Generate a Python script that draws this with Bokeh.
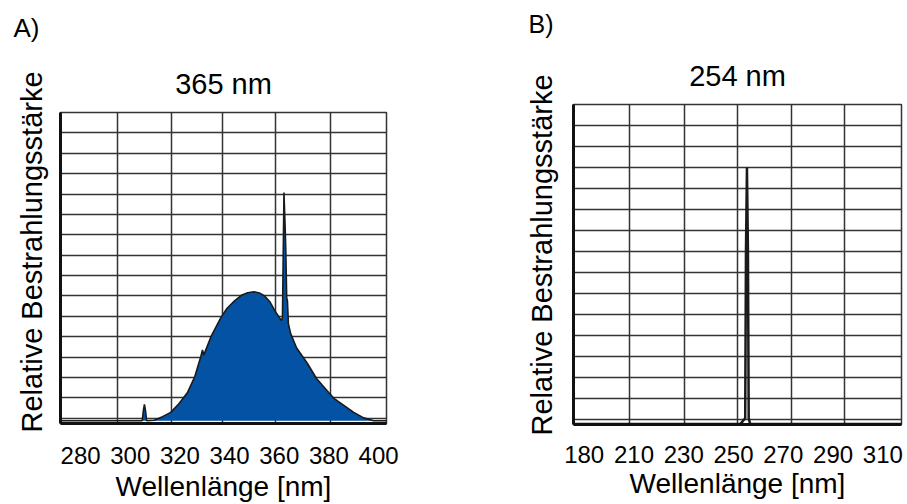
from bokeh.plotting import figure
from bokeh.layouts import row
from bokeh.models import Range1d, FixedTicker, Title
from bokeh.embed import file_html
from bokeh.resources import INLINE

FONT = "Liberation Sans"

# ---------------- Panel A: 365 nm lamp spectrum ----------------
a_wavelength = [271.9, 300.0, 304.8, 305.3, 305.7, 306.1, 306.6, 309.6, 313.0, 316.3,
                319.5, 323.0, 326.0, 328.4, 329.1, 329.6, 332.5, 336.6, 339.0, 342.0,
                345.0, 347.3, 349.8, 352.0, 354.1, 356.3, 358.2, 360.0, 360.9, 361.3,
                361.9, 362.4, 362.6, 363.0, 363.3, 363.7, 364.6, 367.0, 371.3, 375.0,
                380.0, 382.0, 385.0, 390.0, 394.0, 398.0, 403.2]
a_intensity = [-0.12, -0.12, -0.12, 0.40, 0.68, 0.40, -0.12, -0.10, 0.08, 0.29,
               0.70, 1.25, 2.05, 3.02, 3.35, 3.10, 4.00, 4.96, 5.40, 5.76,
               6.05, 6.16, 6.21, 6.15, 6.00, 5.70, 5.28, 4.95, 4.80, 4.95,
               11.07, 9.30, 8.43, 5.92, 5.76, 4.63, 4.15, 3.45, 2.70, 1.95,
               1.25, 0.98, 0.72, 0.29, 0.02, -0.12, -0.12]
a_baseline = -0.12
a_ticks = [280, 300, 320, 340, 360, 380, 400]
a_grid_x = [295.0, 316.7, 337.2, 358.6, 380.7]
a_x_range = (271.9, 403.2)
a_y_range = (-0.256, 15)

# ---------------- Panel B: 254 nm lamp spectrum ----------------
b_wavelength = [185.7, 252.7, 254.7, 255.0, 255.4, 255.8, 256.1, 256.7, 317.5]
b_intensity = [-0.20, -0.20, 0.08, 8.0, 12.0, 8.0, 0.08, -0.20, -0.20]
b_tick_pos = [190, 210, 230, 250, 270, 290, 310]
b_tick_labels = ["180", "210", "230", "250", "270", "290", "310"]
b_grid_x = [208.2, 230.3, 251.7, 273.1, 294.5]
b_x_range = (185.7, 317.5)
b_y_range = (-0.22, 15)

grid_y = list(range(0, 16))

Y_TITLE = "Relative Bestrahlungsstärke"
X_TITLE = "Wellenlänge [nm]"


def make_fig(width, xr, yr, left, right, top, bottom, ticks, grid_x, tick_standoff,
             label_standoff, overrides=None):
    p = figure(width=width, height=504, x_range=Range1d(*xr), y_range=Range1d(*yr),
               output_backend="svg", toolbar_location=None,
               min_border_left=left, min_border_right=right,
               min_border_top=top, min_border_bottom=bottom)
    p.frame_align = False
    p.background_fill_color = "white"
    p.border_fill_color = "white"
    p.outline_line_color = "#333333"
    p.outline_line_width = 1.5
    p.xgrid.ticker = FixedTicker(ticks=grid_x)
    p.ygrid.ticker = FixedTicker(ticks=grid_y)
    for g in (p.xgrid, p.ygrid):
        g.grid_line_color = "#333333"
        g.grid_line_width = 1.5
        g.grid_line_alpha = 1.0
    ax = p.xaxis[0]
    ax.ticker = FixedTicker(ticks=ticks)
    if overrides:
        ax.major_label_overrides = overrides
    ax.major_tick_out = 0
    ax.major_tick_in = 0
    ax.minor_tick_line_color = None
    ax.axis_line_width = 3
    ax.axis_line_color = "#111111"
    ax.major_label_text_font = FONT
    ax.major_label_text_font_size = "24px"
    ax.major_label_text_color = "black"
    ax.major_label_standoff = tick_standoff
    ax.axis_label = X_TITLE
    ax.axis_label_text_font = FONT
    ax.axis_label_text_font_size = "28px"
    ax.axis_label_text_font_style = "normal"
    ax.axis_label_text_color = "black"
    ax.axis_label_standoff = label_standoff
    ay = p.yaxis[0]
    ay.ticker = FixedTicker(ticks=[])
    ay.major_tick_out = 0
    ay.major_tick_in = 0
    ay.minor_tick_line_color = None
    ay.major_label_text_font_size = "0px"
    ay.major_label_standoff = 0
    ay.axis_label_standoff = 0
    ay.axis_line_width = 3
    ay.axis_line_color = "#111111"
    return p


def style_title(t, text, align, offset, size, standoff, valign="bottom"):
    t.text = text
    t.align = align
    t.vertical_align = valign
    t.offset = offset
    t.standoff = standoff
    t.text_font = FONT
    t.text_font_size = size
    t.text_font_style = "normal"
    t.text_color = "black"


def side_title(p, text, place, align, offset, size, standoff, valign="bottom"):
    t = Title(text=text)
    style_title(t, text, align, offset, size, standoff, valign)
    p.add_layout(t, place)


# Panel A figure
pa = make_fig(500, a_x_range, a_y_range, 60, 114, 112, 76, a_ticks, a_grid_x, 23, 4)
pa.varea(x=a_wavelength, y1=[a_baseline] * len(a_wavelength), y2=a_intensity,
         fill_color="#0352a3")
pa.line(a_wavelength, a_intensity, line_color="#1a1a1a", line_width=1.6)
style_title(pa.title, "A)", "left", -47, "26px", 20)
side_title(pa, "365 nm", "above", "center", -3, "29px", 26)
side_title(pa, Y_TITLE, "left", "left", -9, "29px", 21, valign="top")

# Panel B figure
pb = make_fig(407, b_x_range, b_y_range, 73, 6, 104, 80, b_tick_pos, b_grid_x, 21, 2,
              overrides={pos: lab for pos, lab in zip(b_tick_pos, b_tick_labels)})
pb.line(b_wavelength, b_intensity, line_color="#1a1a1a", line_width=2.5)
style_title(pb.title, "B)", "left", -45, "25px", 10, valign="top")
side_title(pb, "254 nm", "above", "center", 5, "29px", 26)
side_title(pb, Y_TITLE, "left", "left", -11, "29px", 27, valign="top")

layout = row(pa, pb)
open("out.html", "w").write(file_html(layout, INLINE))
